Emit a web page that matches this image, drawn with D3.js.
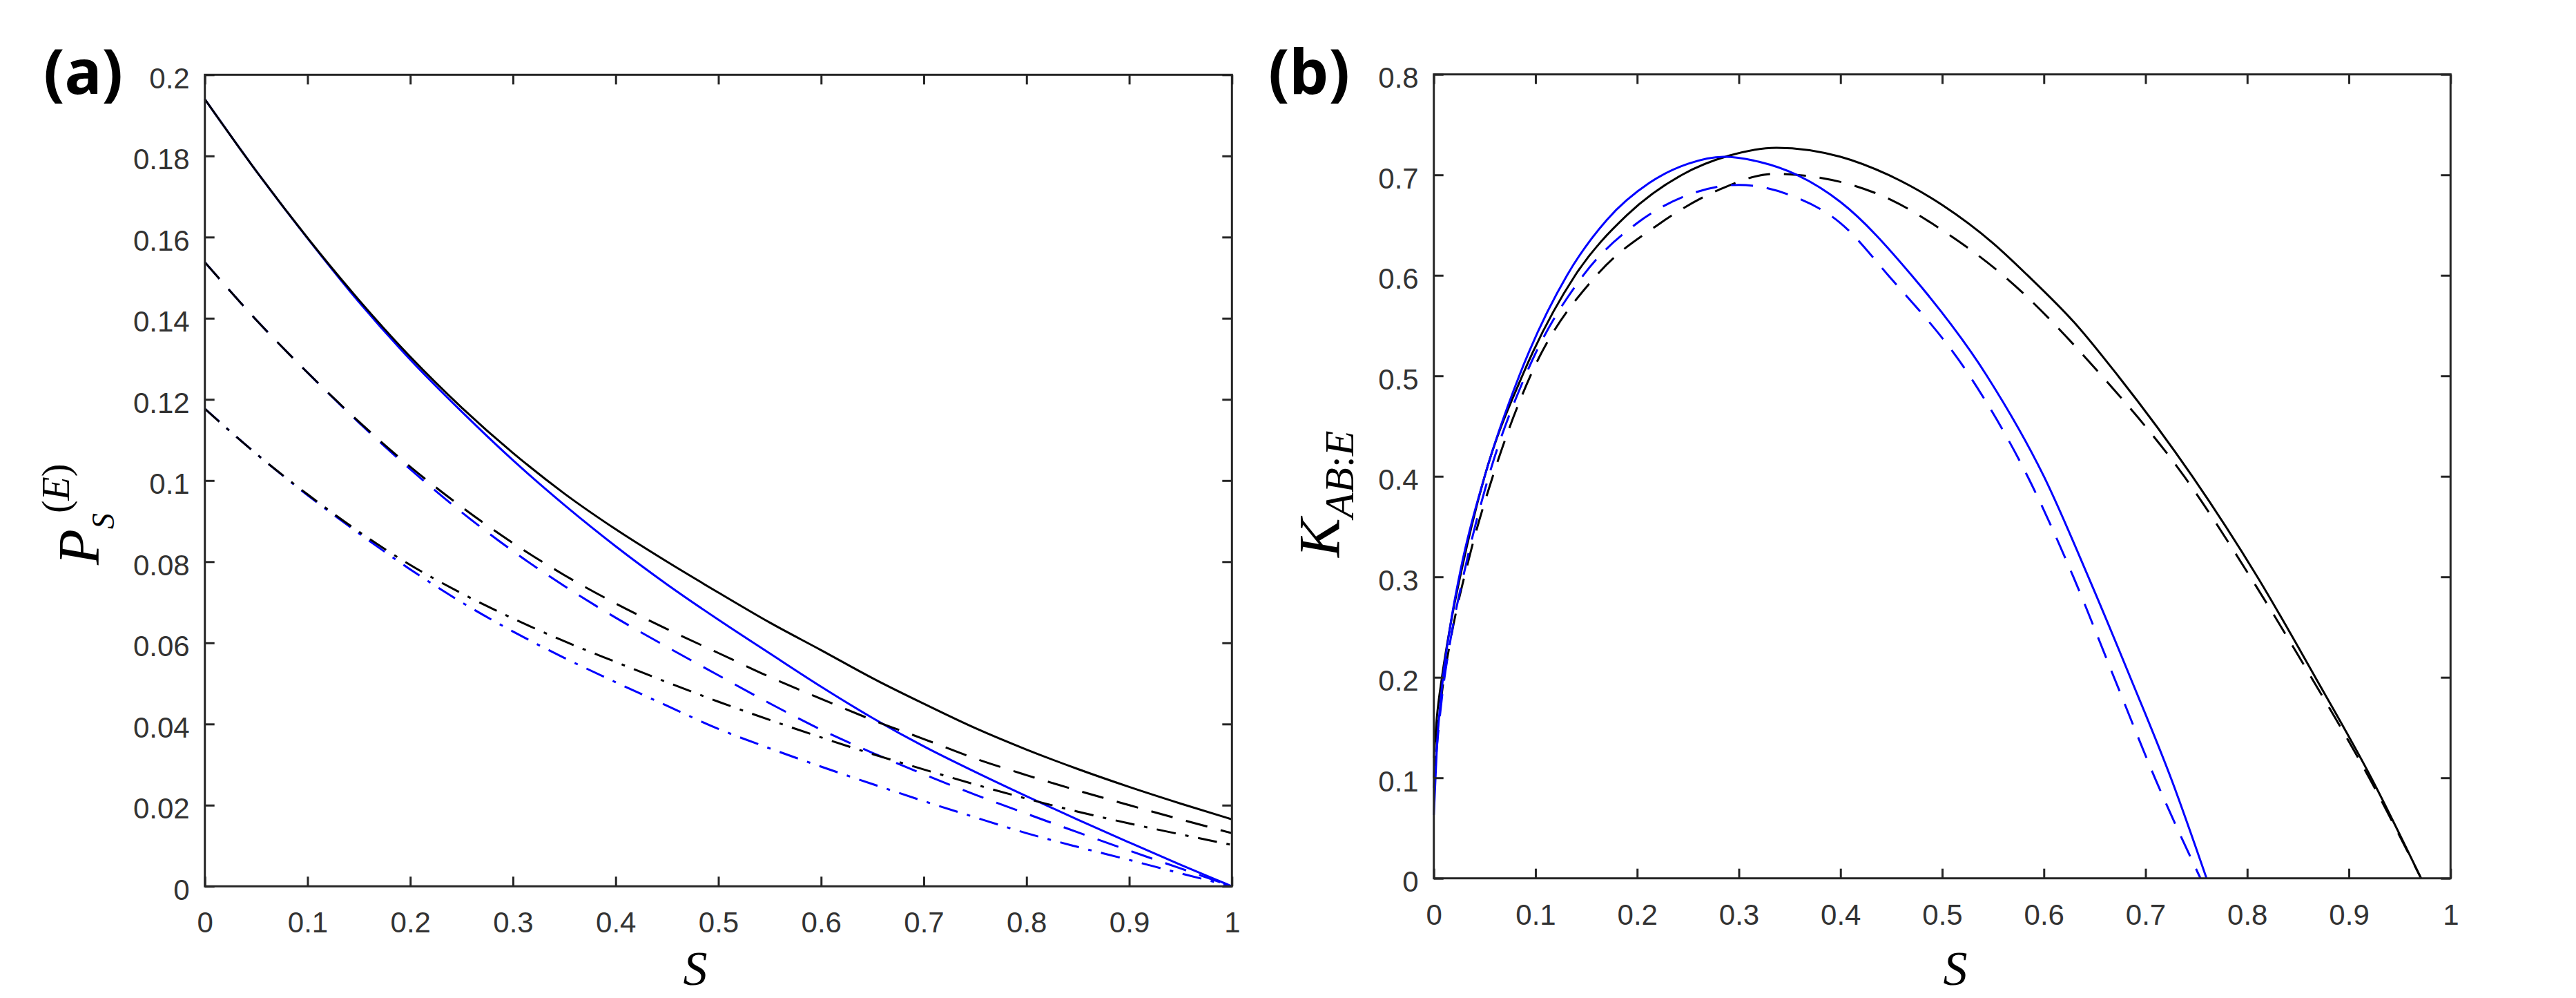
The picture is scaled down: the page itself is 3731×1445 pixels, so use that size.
<!DOCTYPE html>
<html>
<head>
<meta charset="utf-8">
<script src="https://cdn.jsdelivr.net/npm/d3@7"></script>
<style>
body { margin: 0; background: #fff; }
</style>
</head>
<body>
<svg id="fig" width="3731" height="1445"></svg>
<script>

// ---- values ----

// tick values
var xTicks  = [0, 0.1, 0.2, 0.3, 0.4, 0.5, 0.6, 0.7, 0.8, 0.9, 1];
var yTicksA = [0, 0.02, 0.04, 0.06, 0.08, 0.1, 0.12, 0.14, 0.16, 0.18, 0.2];
var yTicksB = [0, 0.1, 0.2, 0.3, 0.4, 0.5, 0.6, 0.7, 0.8];

// panel (a): P_S^(E) against S, shared S grid
var sA = [0, 0.05, 0.1, 0.15, 0.2, 0.25, 0.3, 0.35, 0.4, 0.45, 0.5,
          0.55, 0.6, 0.65, 0.7, 0.75, 0.8, 0.85, 0.9, 0.95, 1];
var blackSolidA = [0.194, 0.1763, 0.1598, 0.1445, 0.1305, 0.1180, 0.1068, 0.0968, 0.0880, 0.0800, 0.0724,
                   0.0650, 0.0582, 0.0513, 0.0450, 0.0390, 0.0337, 0.0289, 0.0245, 0.0204, 0.0165];
var blackDashA  = [0.1538, 0.1396, 0.1266, 0.1145, 0.1034, 0.0935, 0.0846, 0.0767, 0.0697, 0.0634, 0.0575,
                   0.0516, 0.0462, 0.0410, 0.0363, 0.0315, 0.0274, 0.0236, 0.0200, 0.0165, 0.0131];
var blackDotA   = [0.1177, 0.1066, 0.0966, 0.0874, 0.0792, 0.0722, 0.0660, 0.0604, 0.0553, 0.0503, 0.0455,
                   0.0410, 0.0367, 0.0326, 0.0288, 0.0251, 0.0216, 0.0184, 0.0155, 0.0128, 0.0102];
var blueSolidA  = [0.194, 0.1763, 0.1597, 0.1440, 0.1298, 0.1170, 0.1050, 0.0940, 0.0838, 0.0744, 0.0657,
                   0.0574, 0.0492, 0.0415, 0.0345, 0.0282, 0.0222, 0.0164, 0.0108, 0.0053, 0];
var blueDashA   = [0.1538, 0.1396, 0.1266, 0.1143, 0.1028, 0.0922, 0.0826, 0.0740, 0.0662, 0.0590, 0.0520,
                   0.0451, 0.0386, 0.0329, 0.0276, 0.0226, 0.0179, 0.0133, 0.0088, 0.0044, 0];
var blueDotA    = [0.1177, 0.1066, 0.0964, 0.0870, 0.0781, 0.0700, 0.0628, 0.0563, 0.0503, 0.0445, 0.0388,
                   0.0340, 0.0295, 0.0252, 0.0210, 0.0170, 0.0131, 0.0097, 0.0065, 0.0032, 0];

// panel (b): K_AB:E against S, each curve has its own S points
var sBlackSolidB = [0, 0.003, 0.008, 0.016, 0.028, 0.05, 0.087, 0.139, 0.19, 0.244, 0.29, 0.337,
                    0.4, 0.447, 0.5, 0.55, 0.584, 0.63, 0.673, 0.746, 0.81, 0.867, 0.922, 0.971];
var kBlackSolidB = [0.12, 0.16, 0.20, 0.25, 0.31, 0.40, 0.50, 0.60, 0.66, 0.70, 0.719, 0.727,
                    0.718, 0.70, 0.670, 0.632, 0.60, 0.553, 0.50, 0.40, 0.30, 0.20, 0.10, 0];
var sBlackDashB  = [0, 0.003, 0.008, 0.017, 0.035, 0.058, 0.095, 0.16, 0.22, 0.28, 0.335,
                    0.4, 0.45, 0.5, 0.56, 0.657, 0.738, 0.803, 0.863, 0.92, 0.971];
var kBlackDashB  = [0.10, 0.14, 0.185, 0.24, 0.32, 0.40, 0.50, 0.60, 0.65, 0.685, 0.701,
                    0.693, 0.675, 0.645, 0.60, 0.50, 0.40, 0.30, 0.20, 0.10, 0];
var sBlueSolidB  = [0, 0.003, 0.008, 0.016, 0.027, 0.05, 0.084, 0.131, 0.17, 0.212, 0.25, 0.285,
                    0.32, 0.357, 0.4, 0.47, 0.544, 0.6, 0.645, 0.685, 0.726, 0.76];
var kBlueSolidB  = [0.063, 0.13, 0.19, 0.25, 0.31, 0.40, 0.50, 0.60, 0.655, 0.692, 0.711, 0.718,
                    0.713, 0.70, 0.673, 0.60, 0.50, 0.40, 0.297, 0.20, 0.097, 0];
var sBlueDashB   = [0, 0.003, 0.008, 0.016, 0.03, 0.054, 0.09, 0.147, 0.2, 0.25, 0.3,
                    0.35, 0.4, 0.447, 0.527, 0.584, 0.629, 0.669, 0.71, 0.754];
var kBlueDashB   = [0.09, 0.13, 0.18, 0.235, 0.305, 0.40, 0.50, 0.60, 0.652, 0.680, 0.690,
                    0.68, 0.652, 0.60, 0.50, 0.40, 0.30, 0.20, 0.098, 0];


var svg = d3.select("#fig");
svg.append("rect").attr("width", 3731).attr("height", 1445).attr("fill", "white");

var axisColor = "#262626";
var tickFont = "'Liberation Sans', Arial, sans-serif";
var mathFont = "'Liberation Serif', 'Times New Roman', serif";
var dashed = "32,20";
var dashDot = "28,14,5,14";

var fmt = function(d) { return String(+d.toFixed(2)); };

function drawPanel(box, yMax, yTicks, curves) {

    var x = d3.scaleLinear().domain([0, 1]).range([box.left, box.right]);
    var y = d3.scaleLinear().domain([0, yMax]).range([box.bottom, box.top]);

    var g = svg.append("g");

    // curves first, frame on top
    var line = d3.line()
        .x(function(d) { return x(d[0]); })
        .y(function(d) { return y(d[1]); })
        .curve(d3.curveMonotoneX);

    curves.forEach(function(c) {
        g.append("path")
            .datum(d3.zip(c.s, c.v))
            .attr("d", line)
            .attr("fill", "none")
            .attr("stroke", c.color)
            .attr("stroke-width", 3)
            .attr("stroke-dasharray", c.dash);
    });

    // inward ticks on all four sides (matlab box style)
    var bottom = g.append("g").attr("transform", "translate(0," + box.bottom + ")")
        .call(d3.axisBottom(x).tickValues(xTicks).tickSizeInner(-14).tickSizeOuter(0)
              .tickPadding(37).tickFormat(fmt));
    var left = g.append("g").attr("transform", "translate(" + box.left + ",0)")
        .call(d3.axisLeft(y).tickValues(yTicks).tickSizeInner(-14).tickSizeOuter(0)
              .tickPadding(22).tickFormat(fmt));
    var top = g.append("g").attr("transform", "translate(0," + box.top + ")")
        .call(d3.axisTop(x).tickValues(xTicks).tickSizeInner(-14).tickSizeOuter(0)
              .tickFormat(function() { return ""; }));
    var right = g.append("g").attr("transform", "translate(" + box.right + ",0)")
        .call(d3.axisRight(y).tickValues(yTicks).tickSizeInner(-14).tickSizeOuter(0)
              .tickFormat(function() { return ""; }));

    [bottom, left, top, right].forEach(function(a) {
        a.select(".domain").remove();
        a.selectAll("line").attr("stroke", axisColor).attr("stroke-width", 3);
        a.selectAll("text")
            .attr("font-family", tickFont)
            .attr("font-size", 42)
            .attr("fill", "#333");
    });
    left.selectAll("text").attr("dy", "0.45em");

    g.append("rect")
        .attr("x", box.left).attr("y", box.top)
        .attr("width", box.right - box.left).attr("height", box.bottom - box.top)
        .attr("fill", "none")
        .attr("stroke", axisColor)
        .attr("stroke-width", 3);

    return g;
}

// panel (a)
var gA = drawPanel({left: 296.7, right: 1784.3, top: 108.3, bottom: 1283.3}, 0.2, yTicksA, [
    {s: sA, v: blueSolidA, color: "#0000ff", dash: null},
    {s: sA, v: blueDashA,  color: "#0000ff", dash: dashed},
    {s: sA, v: blueDotA,   color: "#0000ff", dash: dashDot},
    {s: sA, v: blackSolidA, color: "#000", dash: null},
    {s: sA, v: blackDashA,  color: "#000", dash: dashed},
    {s: sA, v: blackDotA,   color: "#000", dash: dashDot}
]);

// panel (b)
var gB = drawPanel({left: 2076.7, right: 3549.3, top: 107.7, bottom: 1271.7}, 0.8, yTicksB, [
    {s: sBlackSolidB, v: kBlackSolidB, color: "#000", dash: null},
    {s: sBlackDashB,  v: kBlackDashB,  color: "#000", dash: dashed},
    {s: sBlueSolidB,  v: kBlueSolidB,  color: "#0000ff", dash: null},
    {s: sBlueDashB,   v: kBlueDashB,   color: "#0000ff", dash: dashed}
]);

// panel letters
svg.append("text").attr("x", 63).attr("y", 136).text("(a)")
    .attr("font-family", "'Noto Sans', 'Open Sans', sans-serif")
    .attr("font-weight", "bold").attr("font-size", 90);
svg.append("text").attr("x", 1837).attr("y", 136).text("(b)")
    .attr("font-family", "'Noto Sans', 'Open Sans', sans-serif")
    .attr("font-weight", "bold").attr("font-size", 90);

// x labels
[1007, 2832].forEach(function(cx) {
    svg.append("text").attr("x", cx).attr("y", 1426)
        .attr("text-anchor", "middle")
        .attr("font-family", mathFont).attr("font-style", "italic")
        .attr("font-size", 70)
        .text("S");
});

// y label (a): P_S^(E)
var la = svg.append("text")
    .attr("transform", "translate(143,818) rotate(-90)")
    .attr("font-family", mathFont).attr("font-style", "italic")
    .attr("font-size", 85);
la.append("tspan").text("P");
la.append("tspan").attr("font-size", 46).attr("dy", 22).text("S");
la.append("tspan").attr("font-size", 56).attr("dy", -65).attr("font-style", "normal").text("(");
la.append("tspan").attr("font-size", 56).text("E");
la.append("tspan").attr("font-size", 56).attr("font-style", "normal").text(")");

// y label (b): K_AB:E
var lb = svg.append("text")
    .attr("transform", "translate(1940,807) rotate(-90)")
    .attr("font-family", mathFont).attr("font-style", "italic")
    .attr("font-size", 85);
lb.append("tspan").text("K");
lb.append("tspan").attr("font-size", 60).attr("dy", 20).text("AB");
lb.append("tspan").attr("font-size", 60).attr("font-style", "normal").text(":");
lb.append("tspan").attr("font-size", 60).text("E");

</script>
</body>
</html>
